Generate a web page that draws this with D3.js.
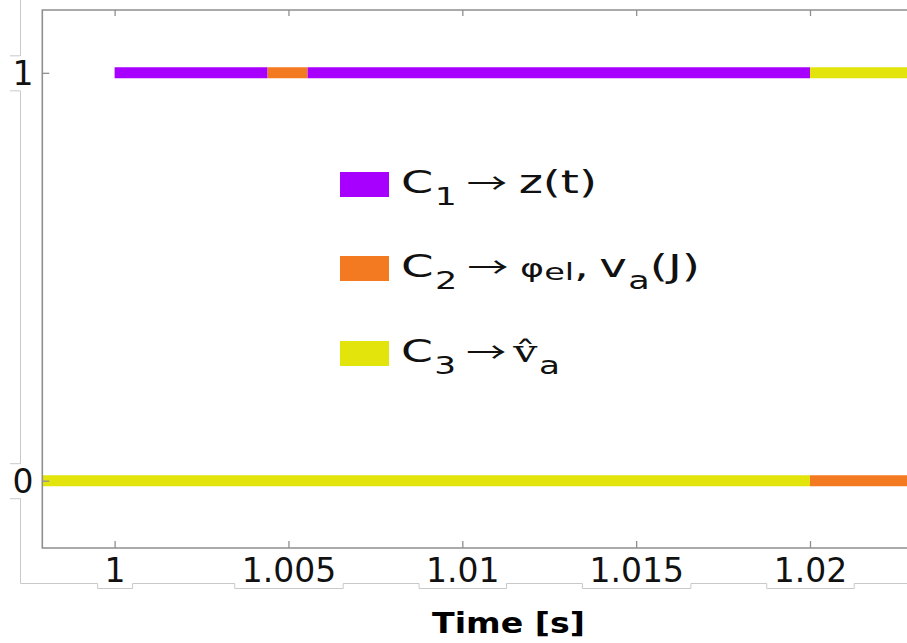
<!DOCTYPE html>
<html>
<head>
<meta charset="utf-8">
<script src="https://cdn.jsdelivr.net/npm/d3@7"></script>
<style>
  body { margin: 0; background: #fff; }
  svg { display: block; font-family: "DejaVu Sans", Verdana, sans-serif; }
</style>
</head>
<body>
<div id="visualization"></div>
<script>
// classes and colours
const classNames = ["C1", "C2", "C3"];
const classColors = ["#a800ff", "#f47a22", "#e2e40c"];

// upper line (value 1): breakpoints in time and the class active in between
const upperLevel = 1;
const upperBreaks = [1, 1.0044, 1.00555, 1.02, 1.0228];
const upperClass = [0, 1, 0, 2];

// lower line (value 0)
const lowerLevel = 0;
const lowerBreaks = [0.9979, 1.02, 1.0228];
const lowerClass = [2, 1];

// axes
const xTicks = [1, 1.005, 1.01, 1.015, 1.02];
const xTickLabels = ["1", "1.005", "1.01", "1.015", "1.02"];
const yTicks = [0, 1];
const yTickLabels = ["0", "1"];
const xLabel = "Time [s]";

// legend text pieces: [text, kind]
const legendLabels = [
  [["C", ""], ["1", "sub"], ["\u2192", "arrow"], ["z(t)", ""]],
  [["C", ""], ["2", "sub"], ["\u2192", "arrow"], ["\u03c6", "small"], ["el", "sub2"], [",", ""], ["v", "after"], ["a", "sub"], ["(J)", ""]],
  [["C", ""], ["3", "sub"], ["\u2192", "arrow"], ["v\u0302", "serif"], ["a", "sub"]]
];

render();

function render() {
  const W = 907, H = 643;
  const left = 42.3, top = 10, bottom = 548, right = 907;
  const frameX = 20.5, frameY = 583.5;
  const axisColor = "#8f8f8f", frameColor = "#c9c9c9";

  const svg = d3.select("#visualization").append("svg")
    .attr("width", W).attr("height", H);

  const x = d3.scaleLinear().domain([0.99792, 1.02279]).range([left, right]);
  const y = d3.scaleLinear().domain([-0.165, 1.154]).range([bottom, top]);

  // outer light frame
  svg.append("path")
    .attr("d", `M${frameX},0 V${frameY} H${W}`)
    .attr("fill", "none").attr("stroke", frameColor).attr("stroke-width", 1);

  // clip for the plot
  svg.append("clipPath").attr("id", "plotclip").append("rect")
    .attr("x", left).attr("y", top).attr("width", right - left + 20).attr("height", bottom - top);

  // line segments
  function segs(breaks, cls, level) {
    return cls.map((c, i) => ({ x0: breaks[i], x1: breaks[i + 1], c: c, v: level }));
  }
  const allSegs = segs(lowerBreaks, lowerClass, lowerLevel).concat(segs(upperBreaks, upperClass, upperLevel));

  svg.append("g").attr("clip-path", "url(#plotclip)")
    .selectAll("line").data(allSegs).enter().append("line")
    .attr("x1", d => x(d.x0)).attr("x2", d => x(d.x1))
    .attr("y1", d => y(d.v)).attr("y2", d => y(d.v))
    .attr("stroke", d => classColors[d.c])
    .attr("stroke-width", 11);

  // plot box
  svg.append("path")
    .attr("d", `M${right + 5},${top} H${left} V${bottom} H${right + 5}`)
    .attr("fill", "none").attr("stroke", axisColor).attr("stroke-width", 1.6);

  // bottom axis
  const xAxis = d3.axisBottom(x).tickValues(xTicks)
    .tickFormat((d, i) => xTickLabels[i]).tickSize(-7).tickSizeOuter(0).tickPadding(11);
  const gx = svg.append("g").attr("transform", `translate(0,${bottom})`).call(xAxis);
  gx.select(".domain").remove();
  gx.selectAll(".tick line").attr("stroke", axisColor).attr("stroke-width", 1.3);
  gx.selectAll(".tick text").attr("fill", "#111").style("font-size", "33px")
    .style("font-family", "'DejaVu Sans', sans-serif");

  // top ticks
  const gt = svg.append("g").attr("transform", `translate(0,${top})`)
    .call(d3.axisTop(x).tickValues(xTicks).tickFormat("").tickSize(-6).tickSizeOuter(0));
  gt.select(".domain").remove();
  gt.selectAll(".tick line").attr("stroke", axisColor).attr("stroke-width", 1.3);

  // left axis
  const yAxis = d3.axisLeft(y).tickValues(yTicks)
    .tickFormat((d, i) => yTickLabels[i]).tickSize(-7).tickSizeOuter(0).tickPadding(0);
  const gy = svg.append("g").attr("transform", `translate(${left},0)`).call(yAxis);
  gy.select(".domain").remove();
  gy.selectAll(".tick line").attr("stroke", axisColor).attr("stroke-width", 1.3);
  gy.selectAll(".tick text").attr("fill", "#111").style("font-size", "33px")
    .style("font-family", "'DejaVu Sans', sans-serif")
    .attr("text-anchor", "middle").attr("x", 23 - left).attr("dy", "0.36em");

  // label boxes that interrupt the light frame
  gx.selectAll(".tick").each(function () {
    const t = d3.select(this);
    const b = t.select("text").node().getBBox();
    const x0 = b.x - 7, x1 = b.x + b.width + 7;
    const fy = frameY - bottom;
    t.insert("rect", "text").attr("x", x0).attr("y", 6).attr("width", x1 - x0).attr("height", fy + 5 - 6)
      .attr("fill", "#fff");
    t.insert("path", "text").attr("d", `M${x0},${fy} V${fy + 5} H${x1} V${fy}`)
      .attr("fill", "none").attr("stroke", frameColor);
  });
  gy.selectAll(".tick").each(function () {
    const t = d3.select(this);
    const fx = frameX - left;
    t.insert("rect", "text").attr("x", fx - 11).attr("y", -17.5).attr("width", 14).attr("height", 35)
      .attr("fill", "#fff");
    t.insert("path", "text").attr("d", `M${fx},-17.5 H${fx - 10.5} M${fx - 10.5},17.5 H${fx}`)
      .attr("fill", "none").attr("stroke", frameColor);
  });

  // horizontal stretch to fit a measured width
  function fitWidth(sel, x0, width) {
    const w = sel.node().getBBox().width;
    sel.attr("transform", `translate(${x0},0) scale(${width / w},1) translate(${-x0},0)`);
  }

  // x-axis title
  const title = svg.append("text")
    .attr("x", 432).attr("y", 633)
    .style("font-size", "29px").style("font-weight", "bold").attr("fill", "#000")
    .text(xLabel);
  fitWidth(title, 432, 153);

  // legend
  const legX = 340, legY = [172, 256, 341], textX = 401;
  const legWidths = [196, 299, 159];
  legendLabels.forEach((parts, i) => {
    svg.append("rect").attr("x", legX).attr("y", legY[i]).attr("width", 49).attr("height", 25)
      .attr("fill", classColors[i]);
    const txt = svg.append("text").attr("x", textX).attr("y", legY[i] + 21)
      .style("font-size", "32px").attr("fill", "#111");
    let shift = 0, prev = "";
    parts.forEach(p => {
      const ts = txt.append("tspan").text(p[0]);
      let target = 0, dx = 0;
      if (p[1] === "sub") { target = 12; ts.style("font-size", "24px"); dx = 1; }
      if (p[1] === "sub2") { target = 3; ts.style("font-size", "23px"); }
      if (p[1] === "arrow") {
        dx = 7; target = 1;
        ts.style("font-family", "'Noto Sans CJK SC', 'DejaVu Sans', sans-serif").style("font-size", "28px");
      }
      if (p[1] === "after") { dx = 7; }
      if (p[1] === "small") { ts.style("font-size", "25px"); }
      if (p[1] === "serif") { ts.style("font-family", "'DejaVu Serif', serif").style("font-size", "30px"); }
      if (prev === "arrow") dx = p[1] === "serif" ? 5 : 8;
      ts.attr("dy", target - shift).attr("dx", dx);
      shift = target;
      prev = p[1];
    });
    fitWidth(txt, textX, legWidths[i]);
  });
}
</script>
</body>
</html>
